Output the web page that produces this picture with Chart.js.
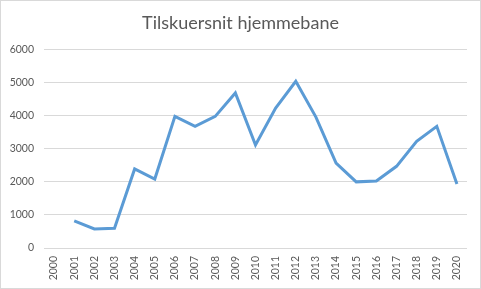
<!DOCTYPE html>
<html>
<head>
<meta charset="utf-8">
<script src="https://cdn.jsdelivr.net/npm/chart.js@4"></script>
<style>
  body { margin: 0; background: #fff; }
  #wrap { width: 481px; height: 289px; box-sizing: border-box; border: 1px solid #d9d9d9; }
  canvas { display: block; }
</style>
</head>
<body>
<div id="wrap"><canvas id="chart" width="479" height="287"></canvas></div>
<script>
// ── Data ──
const years = ['2000', '2001', '2002', '2003', '2004', '2005', '2006', '2007', '2008', '2009', '2010',
               '2011', '2012', '2013', '2014', '2015', '2016', '2017', '2018', '2019', '2020'];
const attendance = [null, 820, 575, 595, 2390, 2085, 3980, 3680, 3980, 4690, 3115,
                    4230, 5040, 3960, 2570, 2000, 2025, 2470, 3225, 3680, 1935];
const yTicks = [0, 1000, 2000, 3000, 4000, 5000, 6000];

const textColor = '#595959';
const gridColor = '#d9d9d9';
const fontFamily = 'Lato, "Open Sans", sans-serif';

const ctx = document.getElementById('chart').getContext('2d');
new Chart(ctx, {
    type: 'line',
    data: {
        labels: years,
        datasets: [{
            label: 'Tilskuersnit hjemmebane',
            data: attendance,
            borderColor: '#5b9bd5',
            borderWidth: 3,
            pointRadius: 0,
            tension: 0,
            spanGaps: false
        }]
    },
    options: {
        responsive: false,
        animation: false,
        layout: { padding: 0 },
        plugins: {
            legend: { display: false },
            tooltip: { enabled: false },
            title: {
                display: true,
                text: 'Tilskuersnit hjemmebane',
                color: textColor,
                font: { family: fontFamily, size: 18, weight: 'normal' },
                padding: { top: 11, bottom: 16 }
            }
        },
        scales: {
            x: {
                offset: true,
                grid: { display: false, drawTicks: false },
                border: { display: false },
                ticks: {
                    color: textColor,
                    font: { family: fontFamily, size: 10.5 },
                    minRotation: 90,
                    maxRotation: 90,
                    autoSkip: false,
                    padding: 8
                },
                afterFit: scale => { scale.height = 40; }
            },
            y: {
                min: 0,
                max: 6000,
                afterBuildTicks: scale => { scale.ticks = yTicks.map(v => ({ value: v })); },
                grid: { color: gridColor, lineWidth: 1, drawTicks: false },
                border: { display: false },
                ticks: {
                    color: textColor,
                    font: { family: fontFamily, size: 10.5 },
                    padding: 10,
                    callback: val => String(val)
                },
                afterFit: scale => { scale.width = 43; }
            },
            // empty right-hand spacer so the plot stops short of the edge
            // while the title stays centred on the whole canvas
            yRight: {
                position: 'right',
                display: true,
                grid: { display: false, drawTicks: false },
                border: { display: false },
                ticks: { display: false },
                afterFit: scale => { scale.width = 13; }
            }
        }
    }
});
</script>
</body>
</html>
